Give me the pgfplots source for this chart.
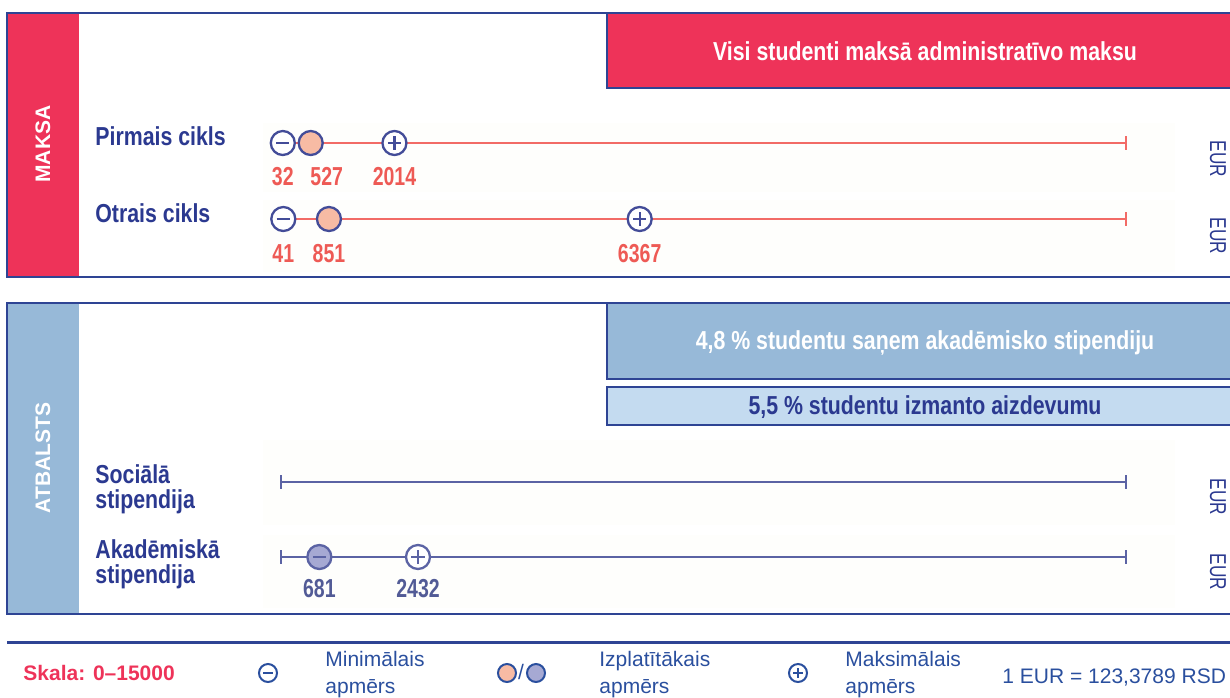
\documentclass[border=0pt]{standalone}
\usepackage{pgfplots}
\pgfplotsset{compat=1.18}
\usepackage{fontspec}
\setmainfont{Liberation Sans}
\newfontfamily\cond{Liberation Sans}[FakeStretch=0.82]
\newfontfamily\condnum{Liberation Sans}[FakeStretch=0.75]

\definecolor{navy}{HTML}{2B3990}
\definecolor{framec}{HTML}{2E4494}
\definecolor{redc}{HTML}{EE3359}
\definecolor{sideblue}{HTML}{97B9D8}
\definecolor{lightblue}{HTML}{C4DBF0}
\definecolor{coral}{HTML}{F26B66}
\definecolor{coralnum}{HTML}{EE5A55}
\definecolor{peach}{HTML}{F7BBA4}
\definecolor{ring}{HTML}{434C98}
\definecolor{slate}{HTML}{5B63A4}
\definecolor{slatenum}{HTML}{525B96}
\definecolor{lilac}{HTML}{A6A9D3}
\definecolor{footblue}{HTML}{2A4F9E}
\definecolor{rowbg}{HTML}{FEFEFC}

\pgfdeclareplotmark{cminus}{%
  \pgfpathcircle{\pgfpointorigin}{\pgfplotmarksize}%
  \pgfusepathqfillstroke
  \pgfpathmoveto{\pgfpoint{-0.55\pgfplotmarksize}{0pt}}%
  \pgfpathlineto{\pgfpoint{0.55\pgfplotmarksize}{0pt}}%
  \pgfusepathqstroke}
\pgfdeclareplotmark{cplus}{%
  \pgfpathcircle{\pgfpointorigin}{\pgfplotmarksize}%
  \pgfusepathqfillstroke
  \pgfpathmoveto{\pgfpoint{-0.55\pgfplotmarksize}{0pt}}%
  \pgfpathlineto{\pgfpoint{0.55\pgfplotmarksize}{0pt}}%
  \pgfpathmoveto{\pgfpoint{0pt}{-0.55\pgfplotmarksize}}%
  \pgfpathlineto{\pgfpoint{0pt}{0.55\pgfplotmarksize}}%
  \pgfusepathqstroke}

\newcommand{\numfont}{\condnum\bfseries\fontsize{13}{13}\selectfont}
\newcommand{\lblfont}{\cond\bfseries\fontsize{13}{13}\selectfont}
\newcommand{\footfont}{\fontsize{10.5}{10.5}\selectfont}

\begin{document}
\begin{tikzpicture}[x=0.5pt,y=-0.5pt]
\path[use as bounding box] (0,0) rectangle (1230,697);
% ---------- panel 1 ----------
\fill[rowbg] (263,123) rectangle (1175,192);
\fill[rowbg] (263,200) rectangle (1175,272);
\fill[redc] (7,13) rectangle (79,277);
\fill[redc] (607,13) rectangle (1232,88);
\draw[framec, line width=1.1pt] (607,13) -- (607,88) -- (1232,88);
\draw[framec, line width=1.25pt] (1232,13) -- (7,13) -- (7,277) -- (1232,277);
\node[rotate=90, text=white, font=\bfseries\fontsize{10.5}{10.5}\selectfont, inner sep=0] at (43,144) {MAKSA};
\node[text=white, font=\lblfont, inner sep=0] at (925,51) {Visi studenti maksā administratīvo maksu};
\node[anchor=base west, text=navy, font=\lblfont, inner sep=0] at (95,145) {Pirmais cikls};
\node[anchor=base west, text=navy, font=\lblfont, inner sep=0] at (95,222) {Otrais cikls};
\node[rotate=-90, text=navy, font=\condnum\fontsize{11.5}{11.5}\selectfont, inner sep=0] at (1218,159) {EUR};
\node[rotate=-90, text=navy, font=\condnum\fontsize{11.5}{11.5}\selectfont, inner sep=0] at (1218,236) {EUR};
% ---------- panel 2 ----------
\fill[rowbg] (263,440) rectangle (1175,525);
\fill[rowbg] (263,535) rectangle (1175,608);
\fill[sideblue] (7,303) rectangle (79,614);
\fill[sideblue] (607,303) rectangle (1232,379);
\draw[framec, line width=1.1pt] (607,303) -- (607,379) -- (1232,379);
\fill[lightblue] (607,387) rectangle (1232,425);
\draw[framec, line width=1.1pt] (1232,387) -- (607,387) -- (607,425) -- (1232,425);
\draw[framec, line width=1.25pt] (1232,303) -- (7,303) -- (7,614) -- (1232,614);
\node[rotate=90, text=white, font=\bfseries\fontsize{10.5}{10.5}\selectfont, inner sep=0] at (43,458) {ATBALSTS};
\node[text=white, font=\lblfont, inner sep=0] at (925,343) {4,8 \% studentu saņem akadēmisko stipendiju};
\node[text=navy, font=\lblfont, inner sep=0] at (925,407) {5,5 \% studentu izmanto aizdevumu};
\node[anchor=base west, text=navy, font=\lblfont, inner sep=0] at (95,483) {Sociālā};
\node[anchor=base west, text=navy, font=\lblfont, inner sep=0] at (95,508) {stipendija};
\node[anchor=base west, text=navy, font=\lblfont, inner sep=0] at (95,558) {Akadēmiskā};
\node[anchor=base west, text=navy, font=\lblfont, inner sep=0] at (95,583) {stipendija};
\node[rotate=-90, text=navy, font=\condnum\fontsize{11.5}{11.5}\selectfont, inner sep=0] at (1218,497) {EUR};
\node[rotate=-90, text=navy, font=\condnum\fontsize{11.5}{11.5}\selectfont, inner sep=0] at (1218,572) {EUR};
% ---------- footer ----------
\draw[framec, line width=1.5pt] (7,642) -- (1230,642);
\node[anchor=base west, text=redc, font=\bfseries\footfont, inner sep=0] at (23,680) {Skala: 0--15000};
\draw[footblue, line width=1pt] (268,673) circle (9);
\draw[footblue, line width=1pt] (263,673) -- (273,673);
\node[anchor=base west, text=footblue, font=\footfont, inner sep=0] at (325,666) {Minimālais};
\node[anchor=base west, text=footblue, font=\footfont, inner sep=0] at (325,693) {apmērs};
\filldraw[fill=peach, draw=footblue, line width=1pt] (507,673) circle (9);
\node[text=footblue, font=\footfont, inner sep=0] at (521,672) {/};
\filldraw[fill=lilac, draw=footblue, line width=1pt] (536,673) circle (9);
\node[anchor=base west, text=footblue, font=\footfont, inner sep=0] at (599,666) {Izplatītākais};
\node[anchor=base west, text=footblue, font=\footfont, inner sep=0] at (599,693) {apmērs};
\draw[footblue, line width=1pt] (798,673) circle (9);
\draw[footblue, line width=1pt] (793,673) -- (803,673) (798,668) -- (798,678);
\node[anchor=base west, text=footblue, font=\footfont, inner sep=0] at (845,666) {Maksimālais};
\node[anchor=base west, text=footblue, font=\footfont, inner sep=0] at (845,693) {apmērs};
\node[anchor=base west, text=footblue, font=\footfont, inner sep=0] at (1002,683) {1 EUR = 123,3789 RSD};

% ---------- data: MAKSA ----------
\begin{axis}[at={(140.5pt,-50pt)}, anchor=north west, scale only axis,
  width=422.5pt, height=88pt, xmin=0, xmax=15000, ymin=100, ymax=276,
  y dir=reverse, hide axis, clip=false,
  nodes near coords style={font=\numfont, anchor=base, inner sep=0}]
  % Pirmais cikls (row at y=143)
  \addplot[coral, line width=1.3pt] coordinates {(0,143) (15000,143)};
  \addplot[coral, line width=1pt] coordinates {(15000,136) (15000,150)};
  \addplot[only marks, mark=cminus, mark size=6pt,
    mark options={draw=ring, fill=white, line width=1.15pt},
    point meta=explicit symbolic, nodes near coords,
    nodes near coords style={text=coralnum, yshift=-21pt}]
    coordinates {(32,143) [32]};
  \addplot[only marks, mark=*, mark size=6pt,
    mark options={draw=ring, fill=peach, line width=1.15pt},
    point meta=explicit symbolic, nodes near coords,
    nodes near coords style={text=coralnum, yshift=-21pt, xshift=8pt}]
    coordinates {(527,143) [527]};
  \addplot[only marks, mark=cplus, mark size=6pt,
    mark options={draw=ring, fill=white, line width=1.15pt},
    point meta=explicit symbolic, nodes near coords,
    nodes near coords style={text=coralnum, yshift=-21pt}]
    coordinates {(2014,143) [2014]};
  % Otrais cikls (row at y=219)
  \addplot[coral, line width=1.3pt] coordinates {(0,219) (15000,219)};
  \addplot[coral, line width=1pt] coordinates {(15000,212) (15000,226)};
  \addplot[only marks, mark=cminus, mark size=6pt,
    mark options={draw=ring, fill=white, line width=1.15pt},
    point meta=explicit symbolic, nodes near coords,
    nodes near coords style={text=coralnum, yshift=-21.5pt}]
    coordinates {(41,219) [41]};
  \addplot[only marks, mark=*, mark size=6pt,
    mark options={draw=ring, fill=peach, line width=1.15pt},
    point meta=explicit symbolic, nodes near coords,
    nodes near coords style={text=coralnum, yshift=-21.5pt}]
    coordinates {(851,219) [851]};
  \addplot[only marks, mark=cplus, mark size=6pt,
    mark options={draw=ring, fill=white, line width=1.15pt},
    point meta=explicit symbolic, nodes near coords,
    nodes near coords style={text=coralnum, yshift=-21.5pt}]
    coordinates {(6367,219) [6367]};
\end{axis}

% ---------- data: ATBALSTS ----------
\begin{axis}[at={(140.5pt,-215pt)}, anchor=north west, scale only axis,
  width=422.5pt, height=92pt, xmin=0, xmax=15000, ymin=430, ymax=614,
  y dir=reverse, hide axis, clip=false,
  nodes near coords style={font=\numfont, anchor=base, inner sep=0}]
  % Sociala stipendija (row at y=482)
  \addplot[slate, line width=1.3pt] coordinates {(0,482) (15000,482)};
  \addplot[slate, line width=1pt] coordinates {(0,475) (0,489)};
  \addplot[slate, line width=1pt] coordinates {(15000,475) (15000,489)};
  % Akademiska stipendija (row at y=557)
  \addplot[slate, line width=1.3pt] coordinates {(0,557) (15000,557)};
  \addplot[slate, line width=1pt] coordinates {(0,550) (0,564)};
  \addplot[slate, line width=1pt] coordinates {(15000,550) (15000,564)};
  \addplot[only marks, mark=cminus, mark size=6pt,
    mark options={draw=slate, fill=lilac, line width=1.15pt},
    point meta=explicit symbolic, nodes near coords,
    nodes near coords style={text=slatenum, yshift=-20pt}]
    coordinates {(681,557) [681]};
  \addplot[only marks, mark=cplus, mark size=6pt,
    mark options={draw=slate, fill=white, line width=1.15pt},
    point meta=explicit symbolic, nodes near coords,
    nodes near coords style={text=slatenum, yshift=-20pt}]
    coordinates {(2432,557) [2432]};
\end{axis}
\end{tikzpicture}
\end{document}
